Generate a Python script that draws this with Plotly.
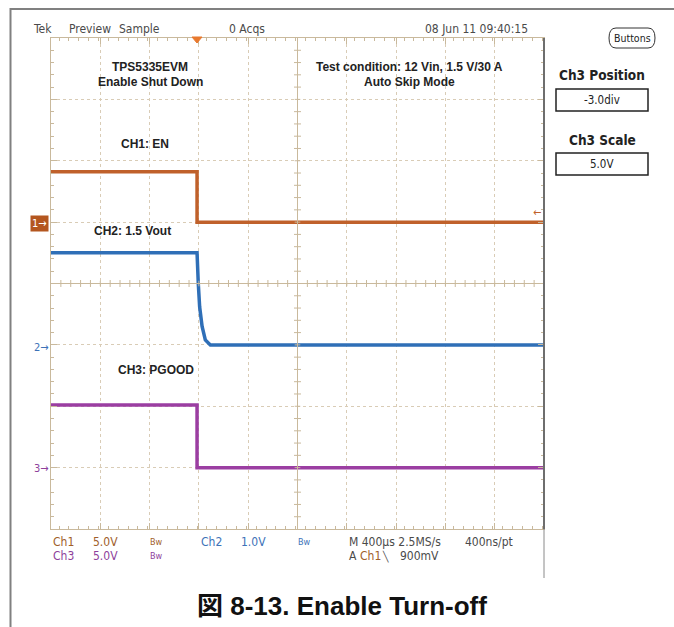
import plotly.graph_objects as go

W, H = 674, 627

# ---------------- data (time in µs, trigger at 0) ----------------
ch1_t = [-1185, 0, 0, 2815]
ch1_v = [4.1, 4.1, 0.0, 0.0]          # EN, 5 V/div

ch2_t = [-1185, 0, 10, 21, 41, 67, 108, 2815]
ch2_v = [1.5, 1.5, 1.0, 0.62, 0.30, 0.08, 0.0, 0.0]   # Vout, 1 V/div

ch3_t = [-1185, 0, 0, 2815]
ch3_v = [5.1, 5.1, 0.0, 0.0]          # PGOOD, 5 V/div

x_range = [-1185, 2815]                 # 10 div x 400 µs
ch1_range = [-25, 15]                   # ground at +1 div
ch2_range = [-3, 5]                     # ground at -1 div
ch3_range = [-5, 35]                    # ground at -3 div

C1 = "#c0612b"
C2 = "#2f6fb7"
C3 = "#9b3ea2"
T1 = "#a05e2a"
T2 = "#3d72b8"
T3 = "#8e3f9c"
GRID = "#d9ccb6"
EDGE = "#c9b99c"
UI = "#4a4a4a"

# plot area in pixels
X0, X1, Y0, Y1 = 51, 544, 38, 529


def px(x, y):
    return x / W, 1 - y / H


fig = go.Figure()
fig.add_trace(go.Scatter(x=ch1_t, y=ch1_v, mode="lines", yaxis="y",
                         line=dict(color=C1, width=3.5)))
fig.add_trace(go.Scatter(x=ch2_t, y=ch2_v, mode="lines", yaxis="y2",
                         line=dict(color=C2, width=3.5)))
fig.add_trace(go.Scatter(x=ch3_t, y=ch3_v, mode="lines", yaxis="y3",
                         line=dict(color=C3, width=3.5)))

xd = [X0 / W, X1 / W]
yd = [1 - Y1 / H, 1 - Y0 / H]

axis_common = dict(showticklabels=False, zeroline=False, showline=True,
                   linecolor=EDGE, linewidth=1, mirror="ticks",
                   ticks="inside", ticklen=6, tickcolor=EDGE,
                   showgrid=True, gridcolor=GRID, griddash="dot", gridwidth=1)

fig.update_layout(
    width=W, height=H, margin=dict(l=0, r=0, t=0, b=0),
    paper_bgcolor="white", plot_bgcolor="white", showlegend=False,
    xaxis=dict(domain=xd, range=x_range, tick0=x_range[0], dtick=400,
               minor=dict(dtick=80, ticks="inside", ticklen=3, tickcolor=EDGE, showgrid=False),
               **axis_common),
    yaxis=dict(domain=yd, range=ch1_range, tick0=0, dtick=5,
               minor=dict(dtick=1, ticks="inside", ticklen=3, tickcolor=EDGE, showgrid=False),
               **axis_common),
    yaxis2=dict(overlaying="y", range=ch2_range, visible=False),
    yaxis3=dict(overlaying="y", range=ch3_range, visible=False),
)

shapes = []
# centre crosshair
shapes.append(dict(type="line", xref="x domain", yref="y domain", x0=0.5, x1=0.5, y0=0, y1=1,
                   line=dict(color=EDGE, width=1)))
shapes.append(dict(type="line", xref="x domain", yref="y domain", x0=0, x1=1, y0=0.5, y1=0.5,
                   line=dict(color=EDGE, width=1)))
hx = 3.5 / (X1 - X0)
hy = 3.5 / (Y1 - Y0)
for k in range(1, 50):
    f = k / 50
    ln = 2.0 if k % 5 else 1.6
    shapes.append(dict(type="line", xref="x domain", yref="y domain", x0=f, x1=f,
                       y0=0.5 - hy * ln / 2, y1=0.5 + hy * ln / 2, line=dict(color=EDGE, width=1)))
for k in range(1, 40):
    f = k / 40
    ln = 2.0 if k % 5 else 1.6
    shapes.append(dict(type="line", xref="x domain", yref="y domain", y0=f, y1=f,
                       x0=0.5 - hx * ln / 2, x1=0.5 + hx * ln / 2, line=dict(color=EDGE, width=1)))

# outer frame
a = px(10, 9); b = px(674, 9)
shapes.append(dict(type="line", xref="paper", yref="paper", x0=a[0], y0=a[1], x1=b[0], y1=b[1],
                   line=dict(color="#808080", width=2)))
a = px(10.5, 8); b = px(10.5, 627)
shapes.append(dict(type="line", xref="paper", yref="paper", x0=a[0], y0=a[1], x1=b[0], y1=b[1],
                   line=dict(color="#808080", width=2)))
# right edge of graticule
a = px(544, 38); b = px(544, 529)
shapes.append(dict(type="line", xref="paper", yref="paper", x0=a[0], y0=a[1], x1=b[0], y1=b[1],
                   line=dict(color="#6e6e6e", width=2)))
a = px(544, 529); b = px(544, 578)
shapes.append(dict(type="line", xref="paper", yref="paper", x0=a[0], y0=a[1], x1=b[0], y1=b[1],
                   line=dict(color="#8a8a8a", width=1)))

# trigger position marker
p1 = px(192, 37); p2 = px(202, 37); p3 = px(197, 43)
shapes.append(dict(type="path", xref="paper", yref="paper",
                   path=f"M {p1[0]},{p1[1]} L {p2[0]},{p2[1]} L {p3[0]},{p3[1]} Z",
                   fillcolor="#e8792e", line=dict(color="#e8792e", width=1)))

# right-panel boxes
for (bx0, by0, bx1, by1) in [(556, 89, 648, 111), (556, 153, 648, 175)]:
    a = px(bx0, by0); b = px(bx1, by1)
    shapes.append(dict(type="rect", xref="paper", yref="paper", x0=a[0], y0=b[1], x1=b[0], y1=a[1],
                       line=dict(color="#222222", width=1.5), fillcolor="white"))
# Buttons rounded outline
pts = [(616, 28), (648, 28), (655, 38), (648, 48), (616, 48), (609, 38)]
q = [px(*p) for p in pts]
path = (f"M {q[0][0]},{q[0][1]} L {q[1][0]},{q[1][1]} Q {px(655,28)[0]},{px(655,28)[1]} {q[2][0]},{q[2][1]} "
        f"Q {px(655,48)[0]},{px(655,48)[1]} {q[3][0]},{q[3][1]} L {q[4][0]},{q[4][1]} "
        f"Q {px(609,48)[0]},{px(609,48)[1]} {q[5][0]},{q[5][1]} Q {px(609,28)[0]},{px(609,28)[1]} {q[0][0]},{q[0][1]} Z")
shapes.append(dict(type="path", xref="paper", yref="paper", path=path,
                   line=dict(color="#333333", width=1)))

fig.update_layout(shapes=shapes)

NARROW = "Liberation Sans Narrow, DejaVu Sans Condensed, Arial Narrow, sans-serif"
BOLD = "Liberation Sans, Arial, Noto Sans CJK JP, sans-serif"

ann = []


def text(x, y, s, size=12, color=UI, family=NARROW, xanchor="center", bold=False, **kw):
    p = px(x, y)
    if bold:
        s = f"<b>{s}</b>"
    ann.append(dict(x=p[0], y=p[1], xref="paper", yref="paper", text=s, showarrow=False,
                    xanchor=xanchor, yanchor="middle", font=dict(size=size, color=color, family=family),
                    **kw))


# top status line
text(31, 29, "Tek", xanchor="left")
text(67, 29, "Preview", xanchor="left")
text(117, 29, "Sample", xanchor="left")
text(227, 29, "0 Acqs", xanchor="left")
text(423, 29, "08 Jun 11 09:40:15", xanchor="left")

# in-plot notes
text(150, 67, "TPS5335EVM", size=12, color="#222222", family=BOLD, bold=True)
text(150, 82, "Enable Shut Down", size=12, color="#222222", family=BOLD, bold=True)
text(409, 67, "Test condition: 12 Vin, 1.5 V/30 A", size=12, color="#222222", family=BOLD, bold=True)
text(409, 82, "Auto Skip Mode", size=12, color="#222222", family=BOLD, bold=True)
text(145, 144, "CH1: EN", size=12, color="#222222", family=BOLD, bold=True)
text(132, 231, "CH2: 1.5 Vout", size=12, color="#222222", family=BOLD, bold=True)
text(156, 370, "CH3: PGOOD", size=12, color="#222222", family=BOLD, bold=True)

# ground markers
text(39.5, 224, "1→", size=11, color="white", bgcolor="#b4561f", borderpad=1)
text(41, 347, "2→", size=11, color=T2)
text(41, 468, "3→", size=11, color=T3)
text(537, 212, "←", size=11, color=C1)

# right panel
text(632, 38, "Buttons", size=10.5, color="#222222")
text(602, 75, "Ch3 Position", size=13.5, color="#222222", bold=True)
text(602, 100, "-3.0div", size=11.5, color="#222222")
text(602, 140, "Ch3 Scale", size=13.5, color="#222222", bold=True)
text(602, 164, "5.0V", size=11.5, color="#222222")

# bottom status
text(51, 542, "Ch1", color=T1, xanchor="left")
text(91, 542, "5.0V", color=T1, xanchor="left")
text(148, 542, "Bw", size=9, color=T1, xanchor="left")
text(199, 542, "Ch2", color=T2, xanchor="left")
text(239, 542, "1.0V", color=T2, xanchor="left")
text(296, 542, "Bw", size=9, color=T2, xanchor="left")
text(51, 556, "Ch3", color=T3, xanchor="left")
text(91, 556, "5.0V", color=T3, xanchor="left")
text(148, 556, "Bw", size=9, color=T3, xanchor="left")
text(347, 542, "M 400µs 2.5MS/s", color=UI, xanchor="left")
text(463, 542, "400ns/pt", color=UI, xanchor="left")
text(347, 556, "A", color=UI, xanchor="left")
text(358, 556, "Ch1", color=T1, xanchor="left")
text(380, 556, "╲", size=10, color=UI, xanchor="left")
text(398, 556, "900mV", color=UI, xanchor="left")

# caption
text(342, 606, "図 8-13. Enable Turn-off", size=26, color="#111111",
     family="Liberation Sans, Arial, Noto Sans CJK JP, sans-serif", bold=True)

fig.update_layout(annotations=ann)

fig.write_html("out.html", config={"displayModeBar": False},
               post_script="document.body.style.margin='0';")
